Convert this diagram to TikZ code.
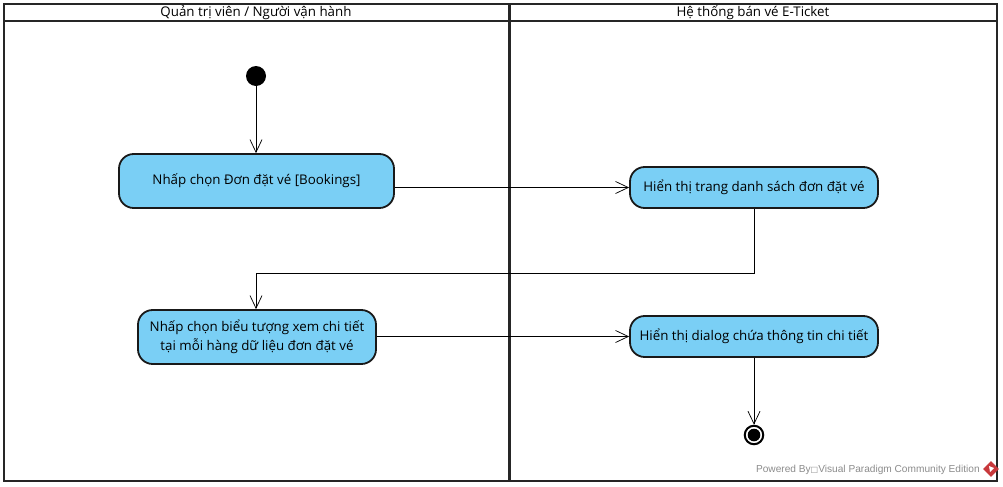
\documentclass[tikz,border=0pt]{standalone}
\usepackage{fontspec}
\setmainfont{Open Sans}
\newfontfamily\markfont{Liberation Sans}
\newfontfamily\boxfont{DejaVu Sans}
\usetikzlibrary{arrows.meta,shapes.geometric}
\definecolor{actblue}{HTML}{7ACFF5}
\definecolor{markgray}{HTML}{8C8C8C}
\definecolor{markred}{HTML}{C8393C}
\tikzset{
    lane/.style={draw=black!85,line width=1.5pt},
    lanetitle/.style={font=\fontsize{10}{12}\selectfont,inner sep=0pt},
    action/.style={draw=black!90,fill=actblue,line width=1.35pt,rounded corners=11pt,align=center,inner sep=0pt,
        font=\fontsize{10}{14.5}\selectfont},
    flow/.style={line width=.75pt,-{Straight Barb[length=9.5pt,width=9pt,line width=.55pt]}},
}
\begin{document}
\begin{tikzpicture}[x=.75pt,y=-.75pt] % one unit is one pixel of the reference
\useasboundingbox (0,0) rectangle (1003,486);
    \fill[white] (0,0) rectangle (1003,486);
    % lanes
    \draw[lane] (4,4) rectangle (997,481);
    \draw[lane] (4,21) -- (997,21);
    \draw[lane,line width=2pt] (509.5,4) -- (509.5,481);
    \node[lanetitle] (adminlane) at (256,13) {Quản trị viên / Người vận hành};
    \node[lanetitle] (systemlane) at (753,13) {Hệ thống bán vé E-Ticket};
    % actions
    \node[circle,fill=black,minimum size=20pt*.75,inner sep=0pt] (start) at (256,76) {};
    \node[action,minimum width=275*.75pt,minimum height=54*.75pt] (bookings) at (256.5,181) {Nhấp chọn Đơn đặt vé [Bookings]};
    \node[action,minimum width=248*.75pt,minimum height=41*.75pt] (listpage) at (754,187.5) {Hiển thị trang danh sách đơn đặt vé};
    \node[action,minimum width=238*.75pt,minimum height=54*.75pt] (viewicon) at (257,337) {Nhấp chọn biểu tượng xem chi tiết\\tại mỗi hàng dữ liệu đơn đặt vé};
    \node[action,minimum width=248*.75pt,minimum height=41*.75pt] (dialog) at (754,336.5) {Hiển thị dialog chứa thông tin chi tiết};
    \node[circle,draw=black,line width=1.5pt,minimum size=18.5*.75pt,inner sep=0pt] (stop) at (754,435) {};
    \fill (stop.center) circle (6.3*.75pt);
    \coordinate (turn) at (754,273);
    % flows
    \draw[flow] (start) -- (bookings.north -| start);
    \draw[flow] (bookings.east |- listpage.west) -- (listpage.west);
    \draw[flow] (listpage.south) -- (turn) -| (viewicon.north -| start);
    \draw[flow] (viewicon.east |- dialog.west) -- (dialog.west);
    \draw[flow] (dialog.south) -- (stop.north);
    % watermark
    \node[anchor=east,inner sep=0pt,text=markgray,font=\markfont\fontsize{7.6}{9}\selectfont] (powered) at (980,469.5) {Powered By{\boxfont\fontsize{6}{9}\selectfont □}Visual Paradigm Community Edition};
    \node[diamond,fill=markred,minimum size=16*.75pt,inner sep=0pt] (logo) at (991,469) {};
    \fill[white] (989,466) -- (994,468) -- (990,472) -- cycle;
\end{tikzpicture}
\end{document}
